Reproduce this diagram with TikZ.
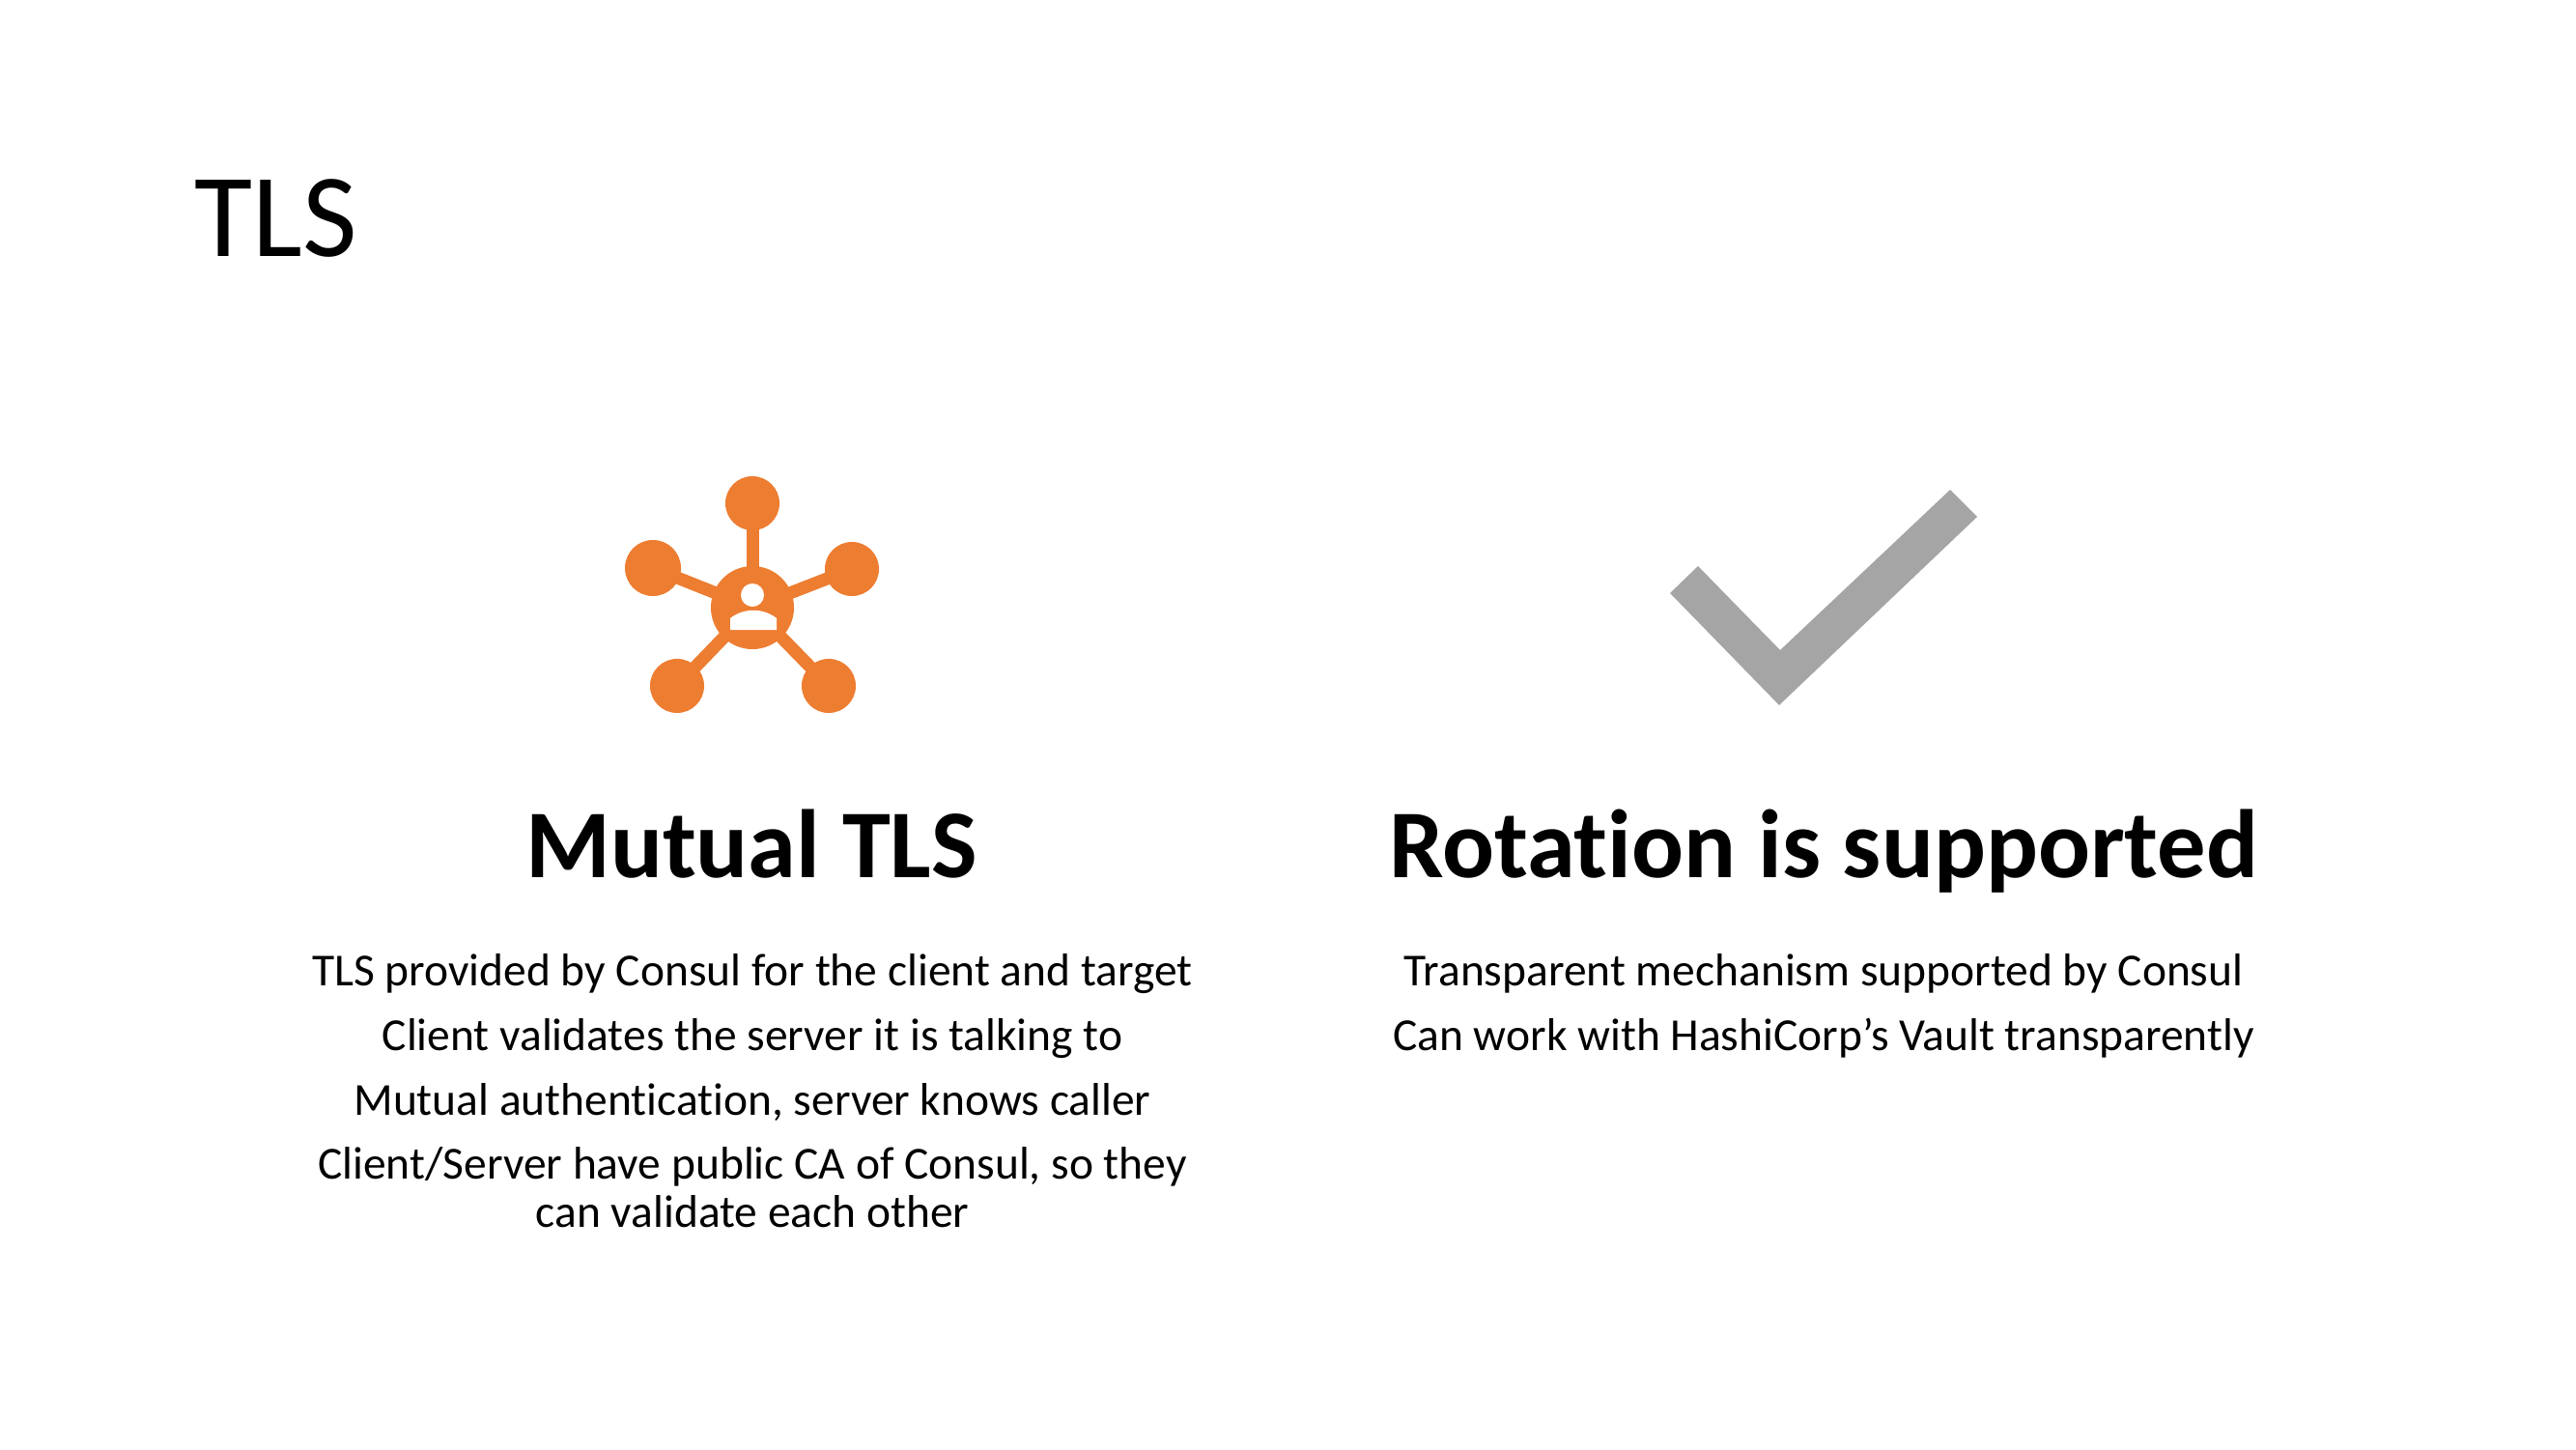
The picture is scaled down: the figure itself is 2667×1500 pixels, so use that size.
\documentclass[tikz,border=0pt]{standalone}
\usepackage{fontspec}
\setmainfont[Ligatures=NoCommon]{Carlito}
\definecolor{hubcolor}{HTML}{ED7D31}
\definecolor{tickcolor}{HTML}{A5A5A5}
\tikzset{
  hub/.style={circle,fill=hubcolor,inner sep=0pt,outer sep=0pt,minimum size=.86cm},
  leaf/.style={circle,fill=hubcolor,inner sep=0pt,outer sep=0pt,minimum size=.56cm},
  spoke/.style={draw=hubcolor,line width=.13cm,shorten >=-1.5pt,shorten <=-1.5pt},
  headline/.style={font=\fontsize{28.6}{34}\selectfont\bfseries,anchor=base},
  bodyline/.style={font=\fontsize{13.5}{14.2}\selectfont,align=center,anchor=base}
}
\begin{document}
\begin{tikzpicture}[x=.01cm,y=-.01cm]
	\useasboundingbox (0,0) rectangle (2667,1500);
	
	\node[font=\fontsize{35}{42}\selectfont,anchor=west] (title) at (189,226) {TLS};
	
	% icon left
	\node[hub] (center) at (779,629) {};
	\node[leaf] (top) at (779,521) {};
	\node[leaf,minimum size=.58cm] (left) at (676,588) {};
	\node[leaf] (right) at (882,589) {};
	\node[leaf] (botleft) at (701,710) {};
	\node[leaf] (botright) at (858,710) {};
	\draw[spoke] (center) -- (top);
	\draw[spoke] (center) -- (left);
	\draw[spoke] (center) -- (right);
	\draw[spoke] (center) -- (botleft);
	\draw[spoke] (center) -- (botright);
	\fill[white] (779,616) circle (12);
	\fill[white] (756,652) -- (756,640) .. controls (770,629) and (790,629) .. (804,640) -- (804,652) -- cycle;
	
	% icon right
	\fill[tickcolor] (1729,614) -- (1758,586) -- (1843,673) -- (2019,507) -- (2047,535) -- (1842,730) -- cycle;
	
	\node[headline] (mutual) at (778,908) {Mutual TLS};
	\node[headline] (rotation) at (1888,908) {Rotation is supported};
	
	% left text
	\node[bodyline] (l1) at (779,1020) {TLS provided by Consul for the client and target};
	\node[bodyline] (l2) at (779,1087) {Client validates the server it is talking to};
	\node[bodyline] (l3) at (779,1154) {Mutual authentication, server knows caller};
	\node[bodyline] (l4) at (779,1270) {Client/Server have public CA of Consul, so they\\can validate each other};
	
	% right text
	\node[bodyline] (r1) at (1888,1020) {Transparent mechanism supported by Consul};
	\node[bodyline] (r2) at (1888,1087) {Can work with HashiCorp’s Vault transparently};
\end{tikzpicture}
\end{document}
